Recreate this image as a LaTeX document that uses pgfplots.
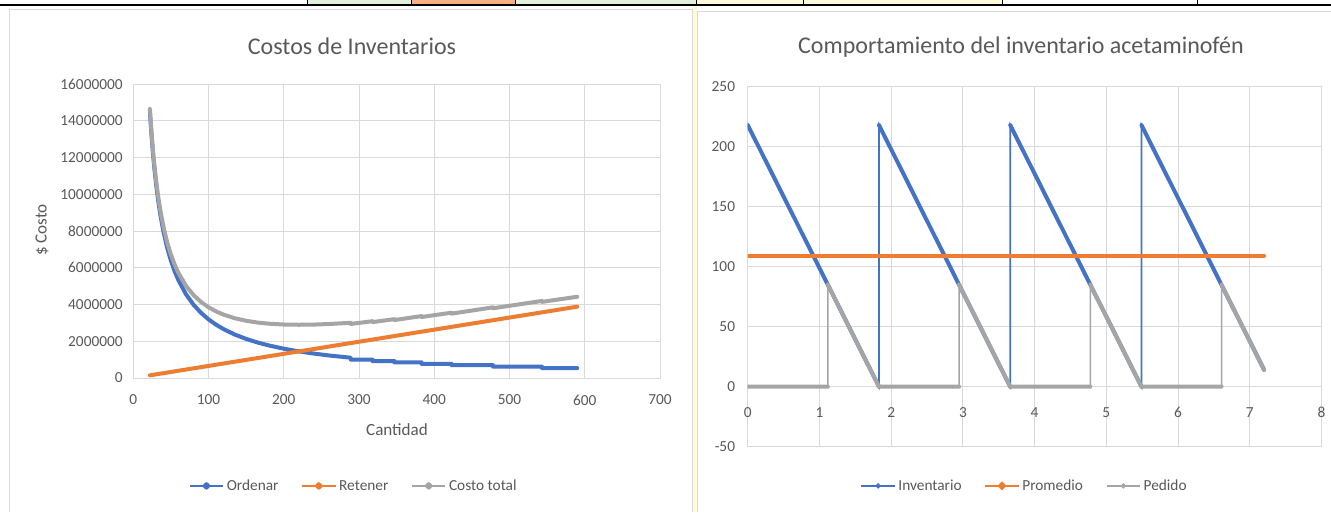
\documentclass[border=0pt]{standalone}
\usepackage{fontspec}
\setmainfont{Carlito}
\usepackage{pgfplots}
\usepackage{pgfplotstable}
\pgfplotsset{compat=1.18}
\definecolor{cblue}{HTML}{4472C4}
\definecolor{corange}{HTML}{ED7D31}
\definecolor{cgray}{HTML}{A5A5A5}
\definecolor{gridc}{HTML}{D9D9D9}
\definecolor{txt}{HTML}{595959}
\definecolor{cellgreen}{HTML}{E2EFDA}
\definecolor{cellorange}{HTML}{F4B084}
\definecolor{cellyellow}{HTML}{FFFADB}

\pgfplotstableread{
Q ord
22 14500000
24 13292000
26 12269000
28 11393000
30 10633000
33 9667000
36 8861000
40 7975000
45 7089000
50 6380000
55 5800000
60 5317000
70 4557000
80 3988000
90 3544000
100 3190000
110 2900000
120 2658000
135 2363000
150 2127000
165 1933000
180 1772000
200 1595000
220 1450000
240 1329000
260 1227000
289 1104000
289 1000000
318 1000000
318 920000
347 920000
347 850000
383 850000
383 770000
423 770000
423 700000
478 700000
478 620000
543 620000
543 540000
590 540000
}\ordtable

\pgfplotstableread{
Q ret
22 144760
100 658000
200 1316000
300 1974000
400 2632000
500 3290000
590 3882200
}\rettable

\pgfplotstableread{
Q tot
22 14644760
24 13449920
26 12440080
28 11577240
30 10830400
33 9884140
36 9097880
40 8238200
45 7385100
50 6709000
55 6161900
60 5711800
70 5017600
80 4514400
90 4136200
100 3848000
110 3623800
120 3447600
135 3251300
150 3114000
165 3018700
180 2956400
200 2911000
220 2897600
240 2908200
260 2937800
289 3005620
289 2941620
318 3092440
318 3042440
347 3203260
347 3153260
383 3370140
383 3320140
423 3553340
423 3503340
478 3845240
478 3795240
543 4192940
543 4142940
590 4422200
}\tottable

\pgfplotstableread{
x y
0 218
1.83 0
1.83 218
3.66 0
3.66 218
5.49 0
5.49 218
7.2 14
}\invtable

\pgfplotstableread{
x y
0 218
1.83 0
nan nan
1.83 218
3.66 0
nan nan
3.66 218
5.49 0
nan nan
5.49 218
7.2 14
}\invslopes

\pgfplotstableread{
x y
0 109
7.2 109
}\promtable

\pgfplotstableread{
x y
0 0
1.117 0
1.117 85
1.83 0
2.947 0
2.947 85
3.66 0
4.777 0
4.777 85
5.49 0
6.607 0
6.607 85
7.2 14
}\pedtable

\pgfplotstableread{
x y
0 0
1.117 0
nan nan
1.117 85
1.83 0
2.947 0
nan nan
2.947 85
3.66 0
4.777 0
nan nan
4.777 85
5.49 0
6.607 0
nan nan
6.607 85
7.2 14
}\pedthick

\pgfplotsset{
  excelaxis/.style={
    scale only axis,
    anchor=south west,
    grid=major,
    major grid style={gridc, line width=0.75pt},
    axis line style={gridc, line width=0.75pt},
    tick style={draw=none},
    major tick length=0pt,
    ticklabel style={font=\fontsize{11.5}{13}\selectfont, text=txt},
    /pgf/number format/assume math mode=true,
    legend style={draw=none, fill=none, font=\fontsize{11.5}{13}\selectfont, text=txt,
      legend columns=3, anchor=center,
      /tikz/every even column/.append style={column sep=15pt}},
    legend cell align=left,
    legend image code/.code={
      \draw[##1, line width=1.5pt, line cap=butt] (0pt,0pt) -- (25pt,0pt);
      \fill[##1] (12.5pt,0pt) circle (1.3pt);
    },
  }
}

\begin{document}
\begin{tikzpicture}[x=1pt,y=1pt]
\useasboundingbox (0pt,0pt) rectangle (998.25pt,384pt);
\fill[white] (0pt,0pt) rectangle (998.25pt,384pt);
% spreadsheet strip
\fill[cellgreen] (230.25pt,380.25pt) rectangle (308.25pt,384pt);
\fill[cellorange] (308.25pt,380.25pt) rectangle (386.25pt,384pt);
\fill[cellgreen] (386.25pt,380.25pt) rectangle (522pt,384pt);
\fill[cellyellow] (522pt,380.25pt) rectangle (751.5pt,384pt);
\foreach \xx in {230.25,308.25,386.25,522,602.25,751.5,897.75}{
  \draw[black, line width=0.5pt] (\xx pt,380.25pt) -- (\xx pt,384pt);
}
\fill[cellyellow] (519pt,0pt) rectangle (522.75pt,380.25pt);
\draw[black, line width=1.2pt] (0pt,380.4pt) -- (998.25pt,380.4pt);
% chart frames
\draw[gridc, line width=0.75pt] (7.1pt,0pt) -- (7.1pt,376.5pt) -- (519pt,376.5pt) -- (519pt,0pt);
\draw[gridc, line width=0.75pt] (522.75pt,0pt) -- (522.75pt,375pt) -- (998.25pt,375pt);

% left chart
\begin{axis}[excelaxis,
  at={(100pt,100.5pt)}, width=395pt, height=220.5pt,
  xmin=0, xmax=700, ymin=0, ymax=16000000,
  xtick={0,100,200,300,400,500,600,700},
  xticklabels={0,100,200,300,400,500,600,700},
  ytick={0,2000000,4000000,6000000,8000000,10000000,12000000,14000000,16000000},
  yticklabels={0,2000000,4000000,6000000,8000000,10000000,12000000,14000000,16000000},
  scaled y ticks=false,
  yticklabel style={xshift=-4.5pt},
  xticklabel style={yshift=-9pt},
  legend style={at={(0.419,-0.367)}},
]
\addplot[cblue, line width=3pt, line cap=round, line join=round] table[x=Q, y=ord] {\ordtable};
\addlegendentry{\strut Ordenar}
\addplot[corange, line width=3pt, line cap=round, line join=round] table[x=Q, y=ret] {\rettable};
\addlegendentry{\strut Retener}
\addplot[cgray, line width=3pt, line cap=round, line join=round] table[x=Q, y=tot] {\tottable};
\addlegendentry{\strut Costo total}
\end{axis}

% right chart
\begin{axis}[excelaxis,
  at={(560.8pt,49pt)}, width=430.3pt, height=270pt,
  xmin=0, xmax=8, ymin=-50, ymax=250,
  xtick={0,1,2,3,4,5,6,7,8},
  xticklabels={0,1,2,3,4,5,6,7,8},
  ytick={-50,0,50,100,150,200,250},
  yticklabels={-50,0,50,100,150,200,250},
  yticklabel style={xshift=-6pt},
  xticklabel style={yshift=33pt},
  legend style={at={(0.483,-0.109)}},
  unbounded coords=jump,
]
\addplot[cblue, line width=1.2pt] table[x=x, y=y] {\invtable};
\addlegendentry{\strut Inventario}
\addplot[cblue, line width=3pt, line cap=round, line join=round, forget plot] table[x=x, y=y] {\invslopes};
\addplot[corange, line width=3pt, line cap=round] table[x=x, y=y] {\promtable};
\addlegendentry{\strut Promedio}
\addplot[cgray, line width=1.2pt] table[x=x, y=y] {\pedtable};
\addlegendentry{\strut Pedido}
\addplot[cgray, line width=3pt, line cap=round, line join=round, forget plot] table[x=x, y=y] {\pedthick};
\end{axis}

% titles and labels
\node[font=\fontsize{18}{21}\selectfont, text=txt] at (264pt,349.5pt) {Costos de Inventarios};
\node[font=\fontsize{18}{21}\selectfont, text=txt] at (765.75pt,348.75pt) {Comportamiento del inventario acetaminofén};
\node[rotate=90, font=\fontsize{12.8}{15}\selectfont, text=txt] at (31.5pt,211.5pt) {\$ Costo};
\node[font=\fontsize{12.8}{15}\selectfont, text=txt] at (297.75pt,61.5pt) {Cantidad};
\end{tikzpicture}
\end{document}
